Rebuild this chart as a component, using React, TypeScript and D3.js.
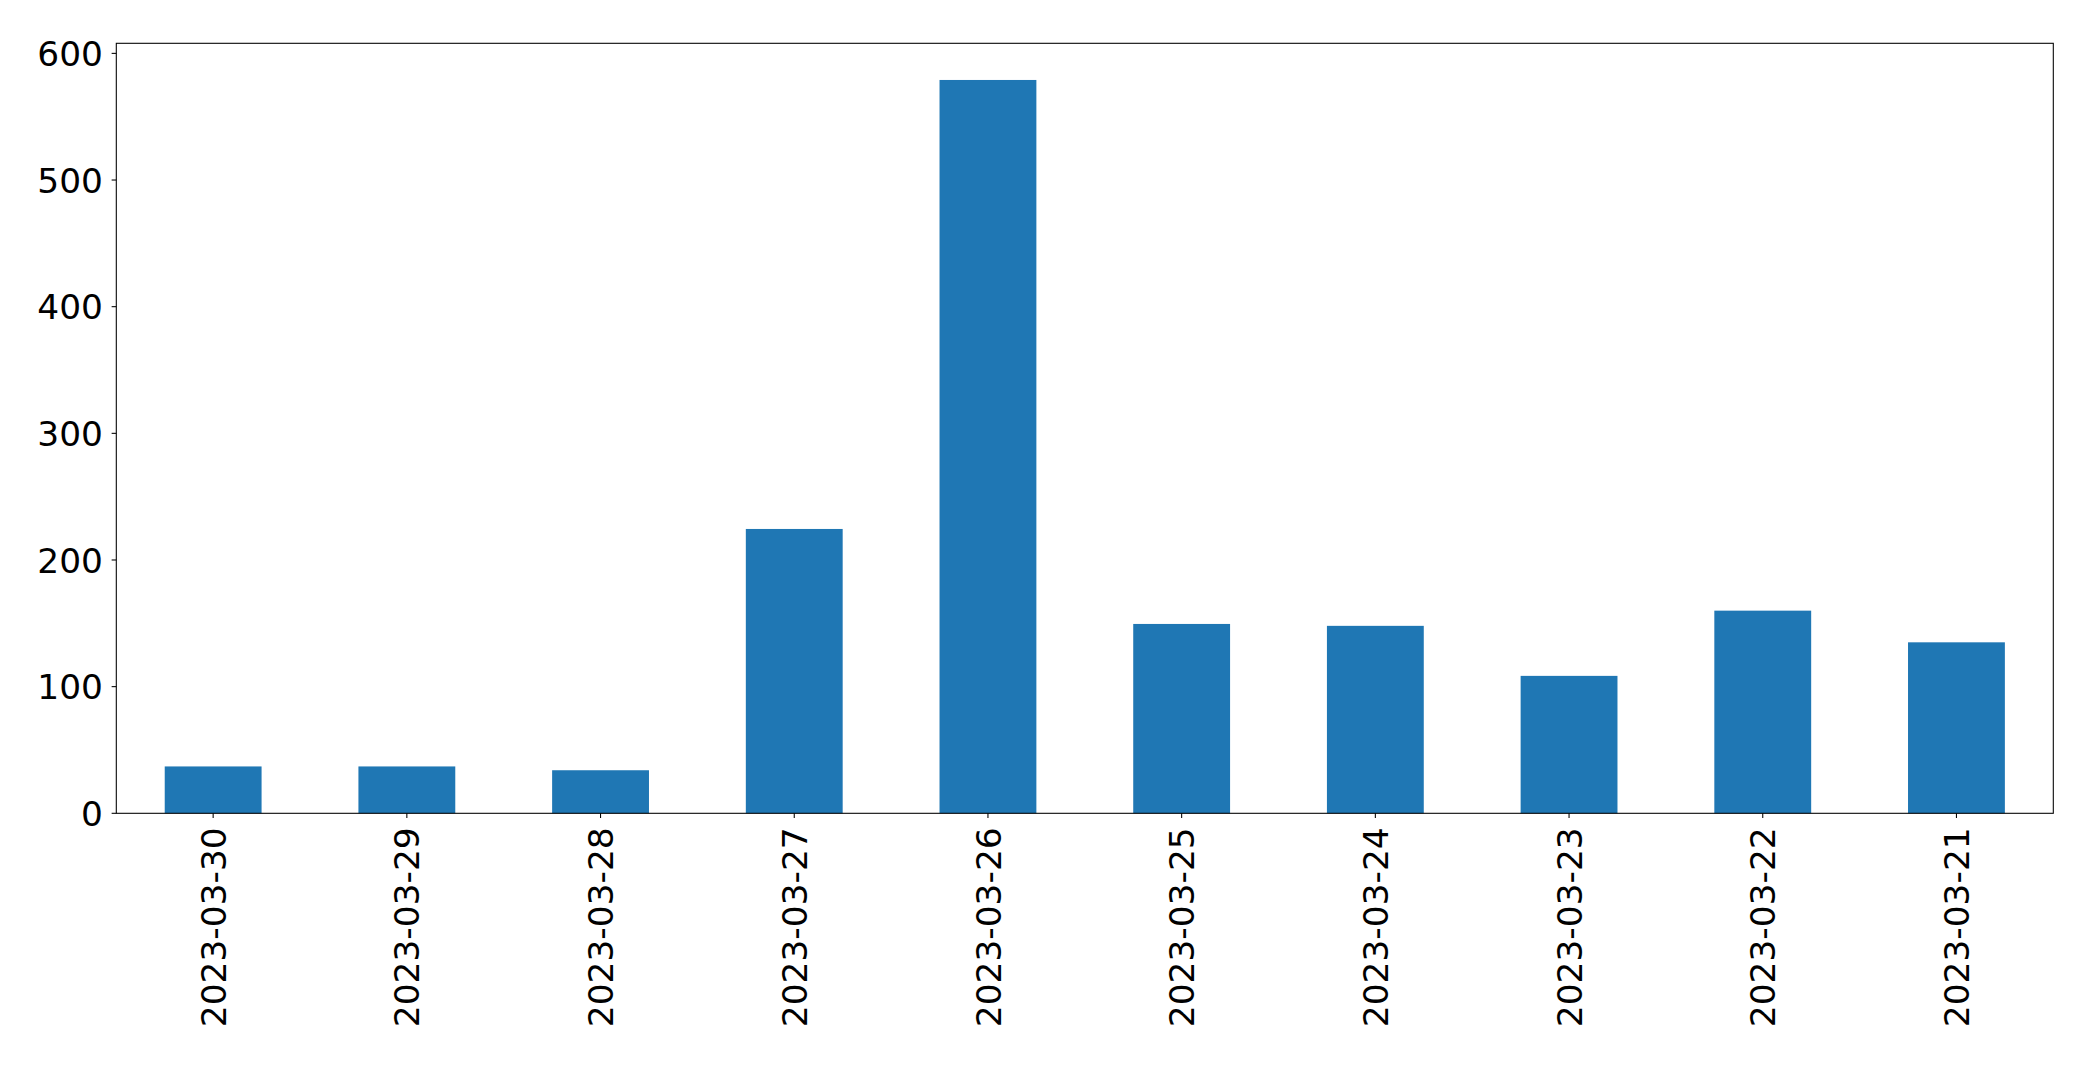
import React from "react";
import * as d3 from "d3";

const categories = [
  "2023-03-30", "2023-03-29", "2023-03-28", "2023-03-27", "2023-03-26",
  "2023-03-25", "2023-03-24", "2023-03-23", "2023-03-22", "2023-03-21",
];
const values = [37, 37, 34, 224.5, 579, 149.5, 148, 108.5, 160, 135];
const yTicks = [0, 100, 200, 300, 400, 500, 600];

const W = 2093;
const H = 1065;
const M = { left: 116.3, right: 2053.3, top: 43.3, bottom: 813.3 };
const FONT = "DejaVu Sans, sans-serif";
const FS = 34.4;

export default function App() {
  const x = d3
    .scaleBand<string>()
    .domain(categories)
    .range([M.left, M.right])
    .paddingInner(0.5)
    .paddingOuter(0.25);
  const yMax = (d3.max(values) as number) * 1.05;
  const y = d3.scaleLinear().domain([0, yMax]).range([M.bottom, M.top]);
  const tick = 4.67;

  return (
    <svg
      width={W}
      height={H}
      style={{ position: "absolute", left: 0, top: 0, background: "#fff" }}
      fontFamily={FONT}
    >
      <rect x={0} y={0} width={W} height={H} fill="#fff" />
      {categories.map((c, i) => (
        <rect
          key={c}
          x={x(c)}
          y={y(values[i])}
          width={x.bandwidth()}
          height={y(0) - y(values[i])}
          fill="#1f77b4"
        />
      ))}
      <rect
        x={M.left}
        y={M.top}
        width={M.right - M.left}
        height={M.bottom - M.top}
        fill="none"
        stroke="#000"
        strokeWidth={1.07}
      />
      {yTicks.map((t) => (
        <g key={t}>
          <line x1={M.left - tick} x2={M.left} y1={y(t)} y2={y(t)} stroke="#000" strokeWidth={1.07} />
          <text
            x={M.left - 13.3}
            y={y(t) + 12.6}
            textAnchor="end"
            fontSize={FS}
            fill="#000"
          >
            {t}
          </text>
        </g>
      ))}
      {categories.map((c) => {
        const cx = (x(c) as number) + x.bandwidth() / 2;
        const ty = M.bottom + 14;
        return (
          <g key={c}>
            <line x1={cx} x2={cx} y1={M.bottom} y2={M.bottom + tick} stroke="#000" strokeWidth={1.07} />
            <text
              x={cx}
              y={ty}
              dy={12.6}
              textAnchor="end"
              fontSize={FS}
              fill="#000"
              transform={`rotate(-90, ${cx}, ${ty})`}
            >
              {c}
            </text>
          </g>
        );
      })}
    </svg>
  );
}
